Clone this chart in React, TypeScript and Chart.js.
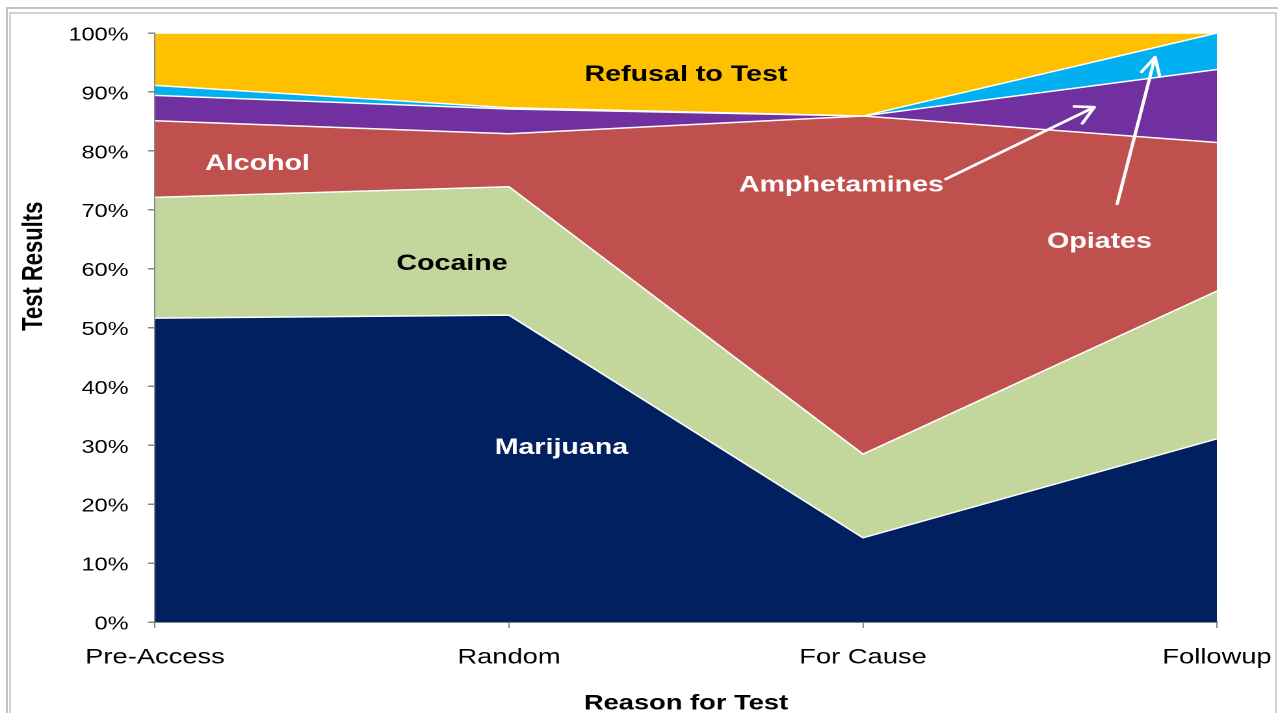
import React, { useEffect, useRef } from "react";
import { Chart, registerables } from "chart.js";

Chart.register(...registerables);

// ---------- data ----------
const categories = ["Pre-Access", "Random", "For Cause", "Followup"];
const marijuana = [51.6, 52.1, 14.3, 31.1];
const cocaine = [20.5, 21.8, 14.2, 25.1];
const alcohol = [13.0, 9.0, 57.4, 25.2];
const amphetamines = [4.3, 4.2, 0.0, 12.4];
const opiates = [1.7, 0.2, 0.0, 6.2];
const refusal = [8.9, 12.7, 14.1, 0.0];
const yMin = 0;
const yMax = 100;
const yStep = 10;

// ---------- annotation placement (data space: category index, percent) ----------
const areaLabels = [
  { text: "Refusal to Test", x: 1.5, y: 93.2, color: "#000000" },
  { text: "Alcohol", x: 0.2895, y: 78.1, color: "#ffffff" },
  { text: "Cocaine", x: 0.839, y: 61.1, color: "#000000" },
  { text: "Marijuana", x: 1.148, y: 29.9, color: "#ffffff" },
  { text: "Amphetamines", x: 1.939, y: 74.5, color: "#ffffff" },
  { text: "Opiates", x: 2.668, y: 64.9, color: "#ffffff" },
];
const arrows = [
  { x1: 2.234, y1: 75.2, x2: 2.653, y2: 87.4 },
  { x1: 2.718, y1: 71.0, x2: 2.825, y2: 95.9 },
];

// ---------- layout ----------
const PAGE_W = 1278;
const PAGE_H = 713;
const K = 1.3001; // horizontal stretch of the original picture
const CW = 983;
const FAMILY = "'Liberation Sans', Arial, Helvetica, sans-serif";

const annotationPlugin = {
  id: "areaAnnotations",
  afterDatasetsDraw(chart: any) {
    const { ctx } = chart;
    const xs = chart.scales.x;
    const ys = chart.scales.y;
    ctx.save();
    ctx.font = `bold 22px ${FAMILY}`;
    ctx.textAlign = "center";
    ctx.textBaseline = "middle";
    for (const l of areaLabels) {
      ctx.fillStyle = l.color;
      ctx.fillText(l.text, xs.getPixelForValue(l.x), ys.getPixelForValue(l.y) + 2);
    }
    ctx.strokeStyle = "#ffffff";
    ctx.lineWidth = 2.6;
    ctx.lineCap = "round";
    ctx.lineJoin = "round";
    for (const a of arrows) {
      const sx = xs.getPixelForValue(a.x1) * K;
      const sy = ys.getPixelForValue(a.y1);
      const ex = xs.getPixelForValue(a.x2) * K;
      const ey = ys.getPixelForValue(a.y2);
      const ang = Math.atan2(ey - sy, ex - sx);
      const L = 20;
      const A = (28 * Math.PI) / 180;
      const w1x = ex - L * Math.cos(ang - A);
      const w1y = ey - L * Math.sin(ang - A);
      const w2x = ex - L * Math.cos(ang + A);
      const w2y = ey - L * Math.sin(ang + A);
      ctx.beginPath();
      ctx.moveTo(sx / K, sy);
      ctx.lineTo(ex / K, ey);
      ctx.stroke();
      ctx.beginPath();
      ctx.moveTo(w1x / K, w1y);
      ctx.lineTo(ex / K, ey);
      ctx.lineTo(w2x / K, w2y);
      ctx.stroke();
    }
    ctx.restore();

    // y-axis title
    ctx.save();
    ctx.translate(26.2, ys.getPixelForValue(60.4));
    ctx.rotate(-Math.PI / 2);
    ctx.font = `bold 22px ${FAMILY}`;
    ctx.fillStyle = "#000000";
    ctx.textAlign = "center";
    ctx.textBaseline = "middle";
    ctx.fillText("Test Results", 0, 0);
    ctx.restore();
  },
};

export default function App() {
  const ref = useRef<HTMLCanvasElement | null>(null);

  useEffect(() => {
    if (!ref.current) return;
    const mk = (label: string, data: number[], color: string, fill: any) => ({
      label,
      data,
      backgroundColor: color,
      borderColor: "#ffffff",
      borderWidth: 1.5,
      pointRadius: 0,
      tension: 0,
      fill,
    });
    const chart = new Chart(ref.current, {
      type: "line",
      data: {
        labels: categories,
        datasets: [
          mk("Marijuana", marijuana, "#002060", "origin"),
          mk("Cocaine", cocaine, "#C3D69B", "-1"),
          mk("Alcohol", alcohol, "#C0504D", "-1"),
          mk("Amphetamines", amphetamines, "#7030A0", "-1"),
          mk("Opiates", opiates, "#00B0F0", "-1"),
          mk("Refusal to Test", refusal, "#FFC000", "-1"),
        ],
      },
      options: {
        animation: false,
        responsive: false,
        devicePixelRatio: 2,
        layout: { padding: { left: 0, right: CW - 1217 / K, top: 33, bottom: 0 } },
        plugins: {
          legend: { display: false },
          tooltip: { enabled: false },
        },
        scales: {
          x: {
            type: "category",
            offset: false,
            grid: {
              drawOnChartArea: false,
              drawTicks: true,
              tickLength: 6,
              color: "#868686",
              lineWidth: 1,
            },
            border: { display: true, color: "#868686", width: 2 },
            ticks: {
              font: { family: FAMILY, size: 21 },
              color: "#000000",
              padding: 17,
              maxRotation: 0,
              autoSkip: false,
            },
            title: {
              display: true,
              text: "Reason for Test",
              font: { family: FAMILY, size: 21, weight: "bold", lineHeight: 0.9 },
              color: "#000000",
              padding: 0,
            },
            afterFit: (s: any) => {
              s.height = PAGE_H - 622;
              s.paddingLeft = 0;
              s.paddingRight = 0;
            },
          },
          y: {
            stacked: true,
            min: yMin,
            max: yMax,
            ticks: {
              stepSize: yStep,
              callback: (v: any) => `${v}%`,
              font: { family: FAMILY, size: 18 },
              color: "#000000",
              padding: 15,
              labelOffset: 2.5,
            },
            grid: {
              drawOnChartArea: false,
              drawTicks: true,
              tickLength: 5.4,
              color: "#868686",
              lineWidth: 1.5,
            },
            border: { display: true, color: "#868686", width: 1.5 },
            afterFit: (s: any) => {
              s.width = 155 / K;
            },
          },
        },
      } as any,
      plugins: [annotationPlugin],
    });
    return () => chart.destroy();
  }, []);

  return (
    <div
      style={{
        position: "fixed",
        left: 0,
        top: 0,
        width: PAGE_W,
        height: PAGE_H,
        overflow: "hidden",
        background: "#ffffff",
      }}
    >
      <div
        style={{
          position: "absolute",
          left: 6,
          top: 7,
          width: 1400,
          height: 800,
          border: "2px solid #c4c4c4",
          boxSizing: "border-box",
        }}
      />
      <div
        style={{
          position: "absolute",
          left: 9,
          top: 12,
          width: 1268,
          height: 800,
          border: "2px solid #d2d2d2",
          boxSizing: "border-box",
          background: "#ffffff",
        }}
      />
      <div
        style={{
          position: "absolute",
          left: 0,
          top: 0,
          width: CW,
          height: PAGE_H,
          transform: `scaleX(${K})`,
          transformOrigin: "0 0",
        }}
      >
        <canvas ref={ref} width={CW} height={PAGE_H} />
      </div>
    </div>
  );
}
